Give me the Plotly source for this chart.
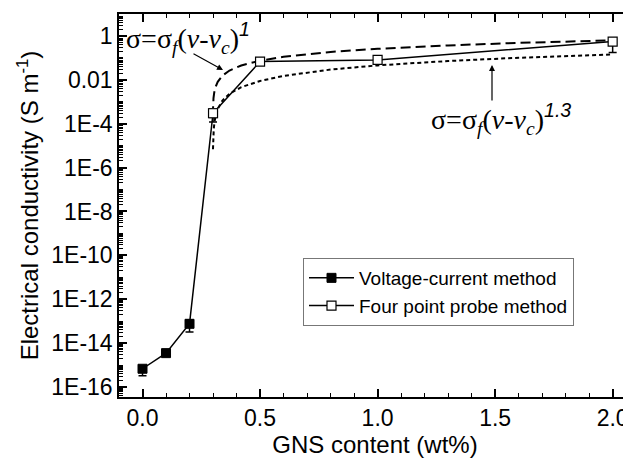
import plotly.graph_objects as go

# ---- data ----
vc_x = [0.0, 0.1, 0.2, 0.3]
vc_y = [6.8e-16, 3.5e-15, 7.6e-14, 3.0e-4]
vc_err_plus = [2.0e-16, 4.0e-16, 3.9e-14, 0.0]
vc_err_minus = [3.5e-16, 4.0e-16, 4.4e-14, 0.0]

fp_x = [0.3, 0.5, 1.0, 2.0]
fp_y = [3.0e-4, 0.068, 0.081, 0.556]
fp_err_plus = [1.6e-4, 0.0, 0.0, 0.05]
fp_err_minus = [1.8e-4, 0.0, 0.0, 0.38]

# fitted curve t = 1 (dashed)
fit1_x = [0.2986, 0.299, 0.300, 0.302, 0.305, 0.31, 0.32, 0.34, 0.37, 0.42, 0.5, 0.6, 0.8, 1.0, 1.3, 1.6, 2.0]
fit1_y = [2.2e-4, 3.7e-4, 7.4e-4, 1.48e-3, 2.59e-3, 4.44e-3, 8.1e-3, 0.0155, 0.0266, 0.0451, 0.0747, 0.112, 0.186, 0.26, 0.371, 0.482, 0.63]

# fitted curve t = 1.3 (dotted)
fit13_x = [0.2998, 0.300, 0.301, 0.303, 0.306, 0.31, 0.32, 0.34, 0.37, 0.42, 0.5, 0.6, 0.8, 1.0, 1.3, 1.6, 2.0]
fit13_y = [6.8e-6, 9.1e-6, 2.2e-5, 5.5e-5, 1.14e-4, 2.05e-4, 4.75e-4, 1.14e-3, 2.31e-3, 4.62e-3, 8.9e-3, 0.0151, 0.0293, 0.0454, 0.072, 0.1014, 0.1437]

y_tickvals = [1e-16, 1e-14, 1e-12, 1e-10, 1e-8, 1e-6, 1e-4, 1e-2, 1]
y_ticktext = ["1E-16", "1E-14", "1E-12", "1E-10", "1E-8", "1E-6", "1E-4", "0.01", "1"]

# the page body adds an 8 px offset, so the figure is sized to compensate
OFF = 8
W, H = 631 - OFF, 466 - 2 * OFF
PL, PT, PB = 119, 14, 397          # plot area in window pixels (right edge = 631)
L, R, T = PL - OFF, 0, PT - OFF
PW, PH = 631 - PL, PB - PT
B = H - T - PH
Y_RANGE = [-16.455, 1.0]


def px(x):
    return (x - PL) / PW


def py(y):
    return (PB - y) / PH


fig = go.Figure()

fig.add_trace(go.Scatter(
    x=fit1_x, y=fit1_y, mode="lines", showlegend=False,
    line=dict(color="black", width=2, dash="10px,5px")))
fig.add_trace(go.Scatter(
    x=fit13_x, y=fit13_y, mode="lines", showlegend=False,
    line=dict(color="black", width=2, dash="4px,3px")))

fig.add_trace(go.Scatter(
    x=vc_x, y=vc_y, mode="lines+markers", name="Voltage-current method",
    line=dict(color="black", width=1.5),
    marker=dict(symbol="square", size=9, color="black", line=dict(color="black", width=1)),
    error_y=dict(type="data", array=vc_err_plus, arrayminus=vc_err_minus,
                 color="black", thickness=1.5, width=4)))
fig.add_trace(go.Scatter(
    x=fp_x, y=fp_y, mode="lines+markers", name="Four point probe method",
    line=dict(color="black", width=1.5),
    marker=dict(symbol="square", size=9, color="white", line=dict(color="black", width=1.2)),
    error_y=dict(type="data", array=fp_err_plus, arrayminus=fp_err_minus,
                 color="black", thickness=1.5, width=4)))

serif = "Liberation Serif"
ann1 = ("σ=σ<sub><i>f</i></sub>(<i>ν</i>-<i>ν</i><sub><i>c</i></sub>)"
        "<sup><span style='font-family:Arial'><i>1</i></span></sup>")
ann2 = ("σ=σ<sub><i>f</i></sub>(<i>ν</i>-<i>ν</i><sub><i>c</i></sub>)"
        "<sup><span style='font-family:Arial'><i>1.3</i></span></sup>")

fig.add_annotation(text=ann1, xref="paper", yref="paper", x=px(124), y=py(38),
                   xanchor="left", yanchor="middle", showarrow=False,
                   font=dict(family=serif, size=28, color="black"))
fig.add_annotation(text=ann2, xref="paper", yref="paper", x=px(501), y=py(119),
                   xanchor="center", yanchor="middle", showarrow=False,
                   font=dict(family=serif, size=28, color="black"))
fig.add_annotation(text="", xref="paper", yref="paper", x=px(223), y=py(70),
                   ax=-31, ay=-17, showarrow=True, arrowhead=2, arrowsize=1,
                   arrowwidth=1.2, arrowcolor="black")
fig.add_annotation(text="", xref="paper", yref="paper", x=px(492), y=py(65),
                   ax=0, ay=37, showarrow=True, arrowhead=2, arrowsize=1,
                   arrowwidth=1.2, arrowcolor="black")

fig.update_layout(
    width=W, height=H,
    margin=dict(l=L, r=R, t=T, b=B, autoexpand=False),
    paper_bgcolor="white", plot_bgcolor="white",
    font=dict(family="Arial", color="black"),
    showlegend=True,
    legend=dict(x=px(303), y=py(258), xanchor="left", yanchor="top",
                bgcolor="white", bordercolor="#777777", borderwidth=1,
                font=dict(family="Arial", size=19, color="black"),
                itemwidth=45, tracegroupgap=0),
)

fig.update_xaxes(
    range=[-0.1, 2.078], tickmode="linear", tick0=0, dtick=0.5, tickformat=".1f",
    ticks="inside", ticklen=8, tickwidth=1.5, tickcolor="black",
    showline=True, linecolor="black", linewidth=1.5, mirror="ticks",
    showgrid=False, zeroline=False,
    minor=dict(dtick=0.1, ticks="inside", ticklen=4, tickwidth=1, tickcolor="black", showgrid=False),
    tickfont=dict(family="Arial", size=23, color="black"),
    title=dict(text="GNS content (wt%)", font=dict(family="Arial", size=24, color="black"), standoff=14),
)
fig.update_layout(yaxis=dict(
    type="log", range=Y_RANGE,
    tickmode="array", tickvals=y_tickvals, ticktext=y_ticktext,
    ticks="inside", ticklen=8, tickwidth=1.5, tickcolor="black",
    showline=True, linecolor="black", linewidth=1.5, mirror=False,
    showgrid=False, zeroline=False,
    minor=dict(dtick="D1", ticks="inside", ticklen=4, tickwidth=1, tickcolor="black", showgrid=False),
    tickfont=dict(family="Arial", size=23, color="black"),
    title=dict(text="Electrical conductivity (S m<sup>-1</sup>)",
               font=dict(family="Arial", size=24, color="black"), standoff=6),
))
# right-hand ticks only (the frame line there falls outside the picture)
fig.update_layout(yaxis2=dict(
    type="log", range=Y_RANGE, overlaying="y", side="right", anchor="x",
    tickmode="array", tickvals=y_tickvals, showticklabels=False,
    ticks="inside", ticklen=8, tickwidth=1.5, tickcolor="black",
    showline=False, showgrid=False, zeroline=False,
    minor=dict(dtick="D1", ticks="inside", ticklen=4, tickwidth=1, tickcolor="black", showgrid=False),
))

fig.write_html("out.html")
